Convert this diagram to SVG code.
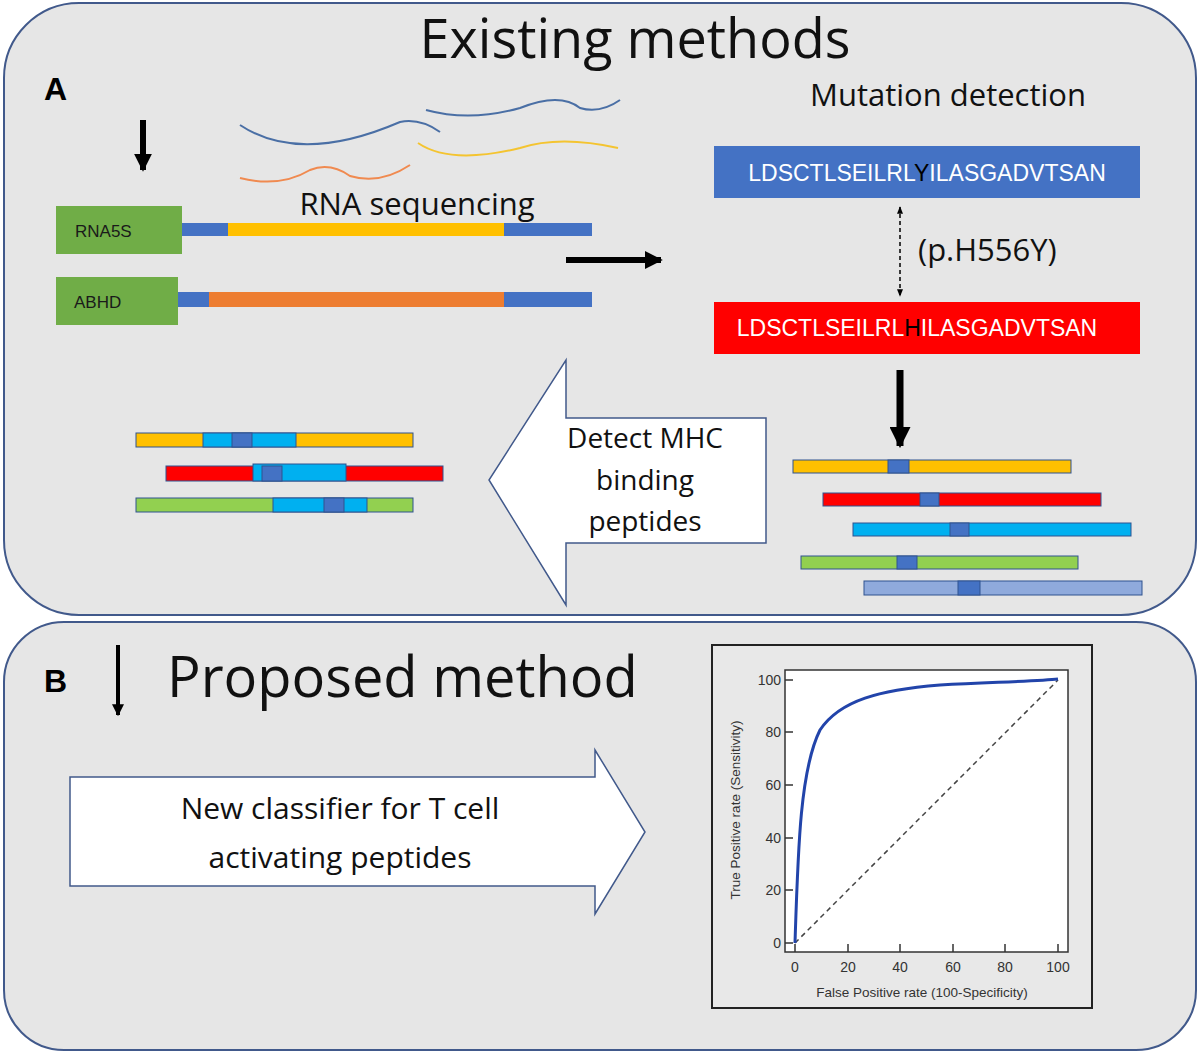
<svg xmlns="http://www.w3.org/2000/svg" width="1200" height="1053" viewBox="0 0 1200 1053">
<style>
.p{fill:#e6e6e6;stroke:#41598b;stroke-width:2}
.t{font-family:"Open Sans","DejaVu Sans",sans-serif;fill:#111}
.g{fill:#70ad47}
.bl{fill:#4472c4}.y{fill:#ffc000}.o{fill:#ed7d31}.r{fill:#ff0000}.c{fill:#00b0f0}.gr{fill:#92d050}.lb{fill:#8faadc}
.bar{stroke:#2f528f;stroke-width:1}
.ax{font-family:"Liberation Sans",Arial,sans-serif;font-size:14px;fill:#333}
</style>
<defs>
<marker id="ah" viewBox="0 0 10 10" refX="9" refY="5" markerWidth="3" markerHeight="3" orient="auto"><path d="M0,0L10,5L0,10z" fill="#000"/></marker>
<marker id="sa" viewBox="0 0 10 10" refX="9" refY="5" markerWidth="5" markerHeight="5" orient="auto-start-reverse"><path d="M0,1L10,5L0,9z" fill="#000"/></marker>
</defs>
<rect width="1200" height="1053" fill="#fff"/>
<g id="panelA">
<rect class="p" x="4" y="3" width="1192" height="612" rx="75"/>
<text class="t" x="635" y="58" font-size="54" text-anchor="middle">Existing methods</text>
<text x="44" y="100" font-family="Liberation Sans,Arial,sans-serif" font-weight="bold" font-size="32">A</text>
</g>
<g id="panelB">
<rect class="p" x="4" y="622" width="1192" height="428" rx="60"/>
<text x="44" y="692" font-family="Liberation Sans,Arial,sans-serif" font-weight="bold" font-size="32">B</text>
<text class="t" x="167" y="697" font-size="56">Proposed method</text>
</g>
<g id="connectors" stroke="#000" fill="none">
<line x1="143" y1="120" x2="143" y2="170" stroke-width="6" marker-end="url(#ah)"/>
<line x1="566" y1="260" x2="661" y2="260" stroke-width="6" marker-end="url(#ah)"/>
<line x1="900" y1="370" x2="900" y2="446" stroke-width="7" marker-end="url(#ah)"/>
<line x1="118" y1="645" x2="118" y2="715" stroke-width="4" marker-end="url(#ah)"/>
<line x1="900" y1="207" x2="900" y2="296" stroke-width="1.5" stroke-dasharray="4,3" marker-start="url(#sa)" marker-end="url(#sa)"/>
</g>
<g id="reads" fill="none" stroke-width="2">
<path d="M240,125 Q300,165 400,122 Q420,118 440,132" stroke="#4a6fa5"/>
<path d="M338,110" stroke="none"/>
<path d="M426,110 Q470,122 520,108 Q560,92 580,108 Q600,114 620,100" stroke="#4a6fa5"/>
<path d="M418,143 Q450,165 520,148 Q560,135 618,148" stroke="#f4c430"/>
<path d="M240,178 Q280,188 310,170 Q330,162 350,176 Q380,185 410,165" stroke="#f08a50"/>
</g>
<g id="genes">
<rect class="g" x="56" y="206" width="126" height="48"/>
<text x="75" y="237" font-family="Liberation Sans,Arial,sans-serif" font-size="17" fill="#1a1a1a">RNA5S</text>
<rect class="bl" x="182" y="223" width="410" height="13"/>
<rect class="y" x="228" y="223" width="276" height="13"/>
<rect class="g" x="56" y="277" width="122" height="48"/>
<text x="74" y="308" font-family="Liberation Sans,Arial,sans-serif" font-size="17" fill="#1a1a1a">ABHD</text>
<rect class="bl" x="178" y="292" width="414" height="15"/>
<rect class="o" x="209" y="292" width="295" height="15"/>
<text class="t" x="417" y="215" font-size="31" text-anchor="middle">RNA sequencing</text>
</g>
<g id="mutation">
<text class="t" x="948" y="106" font-size="31" text-anchor="middle">Mutation detection</text>
<rect class="bl" x="714" y="146" width="426" height="52"/>
<text x="927" y="181" font-family="Liberation Sans,Arial,sans-serif" font-size="23" fill="#fff" text-anchor="middle">LDSCTLSEILRL<tspan fill="#000">Y</tspan>ILASGADVTSAN</text>
<text class="t" x="918" y="261" font-size="31">(p.H556Y)</text>
<rect class="r" x="714" y="302" width="426" height="52"/>
<text x="917" y="336" font-family="Liberation Sans,Arial,sans-serif" font-size="23" fill="#fff" text-anchor="middle">LDSCTLSEILRL<tspan fill="#000">H</tspan>ILASGADVTSAN</text>
</g>
<g id="peptidesRight" class="bar">
<rect class="y" x="793" y="460" width="278" height="13"/><rect class="bl" x="888" y="460" width="21" height="13"/>
<rect class="r" x="823" y="493" width="278" height="13"/><rect class="bl" x="920" y="493" width="19" height="13"/>
<rect class="c" x="853" y="523" width="278" height="13"/><rect class="bl" x="950" y="523" width="19" height="13"/>
<rect class="gr" x="801" y="556" width="277" height="13"/><rect class="bl" x="897" y="556" width="20" height="13"/>
<rect class="lb" x="864" y="581" width="278" height="14"/><rect class="bl" x="958" y="581" width="22" height="14"/>
</g>
<g id="detectArrow">
<path d="M566,360 L566,418 L766,418 L766,543 L566,543 L566,605 L489,480 Z" fill="#fff" stroke="#41598b" stroke-width="1.5"/>
<text class="t" font-size="28" text-anchor="middle"><tspan x="645" y="448">Detect MHC</tspan><tspan x="645" y="490">binding</tspan><tspan x="645" y="531">peptides</tspan></text>
</g>
<g id="peptidesLeft" class="bar">
<rect class="y" x="136" y="433" width="277" height="14"/><rect class="c" x="203" y="433" width="93" height="14"/><rect class="bl" x="232" y="433" width="20" height="14"/>
<rect class="r" x="166" y="466" width="277" height="15"/><rect class="c" x="253" y="464" width="93" height="17"/><rect class="bl" x="262" y="466" width="20" height="15"/>
<rect class="gr" x="136" y="498" width="277" height="14"/><rect class="c" x="273" y="498" width="94" height="14"/><rect class="bl" x="324" y="498" width="20" height="14"/>
</g>
<g id="classifierArrow">
<path d="M70,777 L595,777 L595,750 L645,832 L595,914 L595,886 L70,886 Z" fill="#fff" stroke="#41598b" stroke-width="1.5"/>
<text class="t" font-size="30" text-anchor="middle"><tspan x="340" y="819">New classifier for T cell</tspan><tspan x="340" y="868">activating peptides</tspan></text>
</g>
<g id="roc">
<rect x="712" y="645" width="380" height="363" fill="#e8e8e8" stroke="#222" stroke-width="2"/>
<rect x="785" y="670" width="283" height="282" fill="#fff" stroke="#333" stroke-width="1.5"/>
<line x1="795" y1="943" x2="1058" y2="680" stroke="#444" stroke-width="1.5" stroke-dasharray="5,4"/>
<path d="M795,943 C798,850 800,770 820,730 C840,700 880,690 940,685 C1000,682 1040,681 1058,679" fill="none" stroke="#2244aa" stroke-width="3"/>
<g stroke="#333" stroke-width="1.5">
<line x1="785" y1="680" x2="793" y2="680"/><line x1="785" y1="732" x2="793" y2="732"/><line x1="785" y1="785" x2="793" y2="785"/><line x1="785" y1="838" x2="793" y2="838"/><line x1="785" y1="890" x2="793" y2="890"/><line x1="785" y1="943" x2="793" y2="943"/>
<line x1="795" y1="952" x2="795" y2="944"/><line x1="848" y1="952" x2="848" y2="944"/><line x1="900" y1="952" x2="900" y2="944"/><line x1="953" y1="952" x2="953" y2="944"/><line x1="1005" y1="952" x2="1005" y2="944"/><line x1="1058" y1="952" x2="1058" y2="944"/>
</g>
<g class="ax" text-anchor="end">
<text x="781" y="685">100</text><text x="781" y="737">80</text><text x="781" y="790">60</text><text x="781" y="843">40</text><text x="781" y="895">20</text><text x="781" y="948">0</text>
</g>
<g class="ax" text-anchor="middle">
<text x="795" y="972">0</text><text x="848" y="972">20</text><text x="900" y="972">40</text><text x="953" y="972">60</text><text x="1005" y="972">80</text><text x="1058" y="972">100</text>
<text x="922" y="997" font-size="13.5">False Positive rate (100-Specificity)</text>
<text transform="translate(740,810) rotate(-90)" font-size="13.5">True Positive rate (Sensitivity)</text>
</g>
</g>
</svg>
